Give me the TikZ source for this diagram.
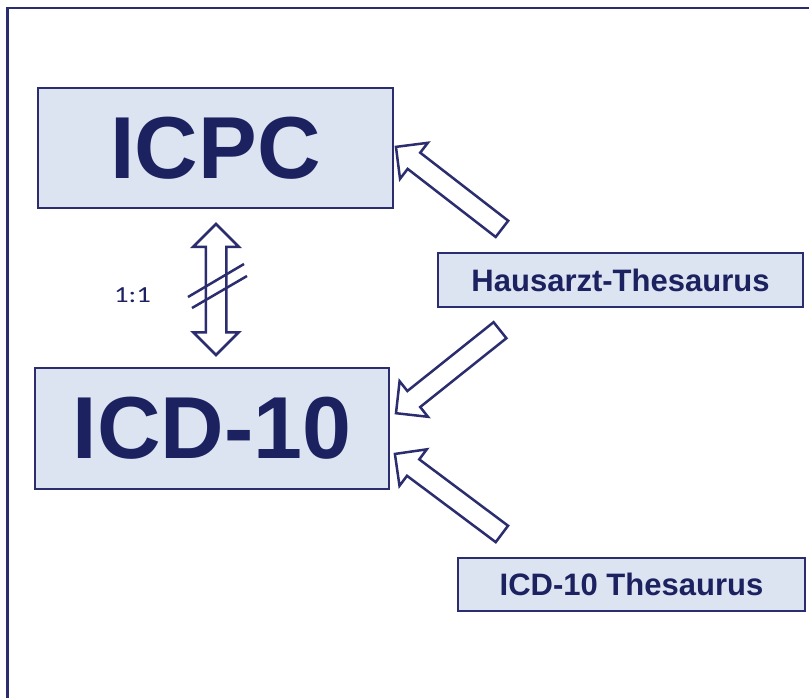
\documentclass[tikz,border=0pt]{standalone}
\usepackage{fontspec}
\usepackage{graphicx}
\setmainfont{Liberation Sans}
\newfontfamily\calib{Carlito}
\usetikzlibrary{shapes.arrows,calc}
\definecolor{navy}{HTML}{2B2D6E}
\definecolor{txtnavy}{HTML}{1C2160}
\definecolor{boxfill}{HTML}{DCE4F1}
\tikzset{
  box/.style={draw=navy, line width=2pt, fill=boxfill, text=txtnavy, font=\bfseries, inner sep=0pt, anchor=center},
  blockarrow/.style={single arrow, draw=navy, line width=2.5pt, fill=white, inner sep=9pt,
    single arrow head extend=12.5pt, minimum width=0pt},
  dblarrow/.style={double arrow, draw=navy, line width=2.5pt, fill=white, inner sep=9pt,
    double arrow head extend=12.5pt, minimum width=0pt},
  slashline/.style={draw=navy, line width=2.5pt},
  frameline/.style={draw=navy, line width=2.8pt}
}
\newcommand\arrowbetween[4]{%
  \path let \p1=(#2), \p2=(#3), \n1={atan2(\y2-\y1,\x2-\x1)}, \n2={veclen(\x2-\x1,\y2-\y1)} in
    node[#1, rotate=\n1, minimum height=\n2] (#4) at ($(\p1)!0.5!(\p2)$) {};}
\begin{document}
\begin{tikzpicture}[x=1pt,y=-1pt]
\useasboundingbox (0,0) rectangle (809,697);
\fill[white] (0,0) rectangle (809,697);
\begin{scope}
  \clip (0,0) rectangle (809,697);
  \draw[frameline] (7.5,8) rectangle (830,720);
\end{scope}

\node[box, minimum width=355pt, minimum height=120pt, font=\bfseries\fontsize{88}{88}\selectfont] (icpc) at (215.5,148) {ICPC};
\node[box, minimum width=354pt, minimum height=121pt, font=\bfseries\fontsize{88}{88}\selectfont] (icd) at (212,428.5) {ICD-10};
\node[box, minimum width=365pt, minimum height=54pt, font=\bfseries\fontsize{31}{31}\selectfont] (haus) at (620.5,280) {Hausarzt-Thesaurus};
\node[box, minimum width=347pt, minimum height=53pt, font=\bfseries\fontsize{31}{31}\selectfont] (icdth) at (631.5,584.5) {ICD-10 Thesaurus};

\coordinate (a1tip) at ($(icpc.east)+(6,2)$);
\coordinate (a1tail) at ($(haus.north west)+(69,-20)$);
\coordinate (a2tail) at ($(haus.south west)+(67,19)$);
\coordinate (a2tip) at ($(icd.east)+(10,-18.5)$);
\coordinate (a3tail) at ($(icdth.north west)+(49,-20)$);
\coordinate (a3tip) at ($(icd.east)+(9,28.5)$);
\coordinate (dtop) at ($(icpc.south)+(0.5,15)$);
\coordinate (dbot) at ($(icd.north)+(4,-12)$);

\arrowbetween{blockarrow}{a1tail}{a1tip}{arr1}
\arrowbetween{blockarrow}{a2tail}{a2tip}{arr2}
\arrowbetween{blockarrow}{a3tail}{a3tip}{arr3}
\arrowbetween{dblarrow}{dbot}{dtop}{dbl}

\draw[slashline] ($(dbl.center)+(-28,7.5)$) -- ($(dbl.center)+(28,-25.5)$);
\draw[slashline] ($(dbl.center)+(-24,18.5)$) -- ($(dbl.center)+(31,-13.5)$);

\node[text=txtnavy, font=\calib\fontsize{23}{23}\selectfont] (ratio) at (132.5,295.5) {\scalebox{1.25}[1]{1:1}};
\end{tikzpicture}
\end{document}
